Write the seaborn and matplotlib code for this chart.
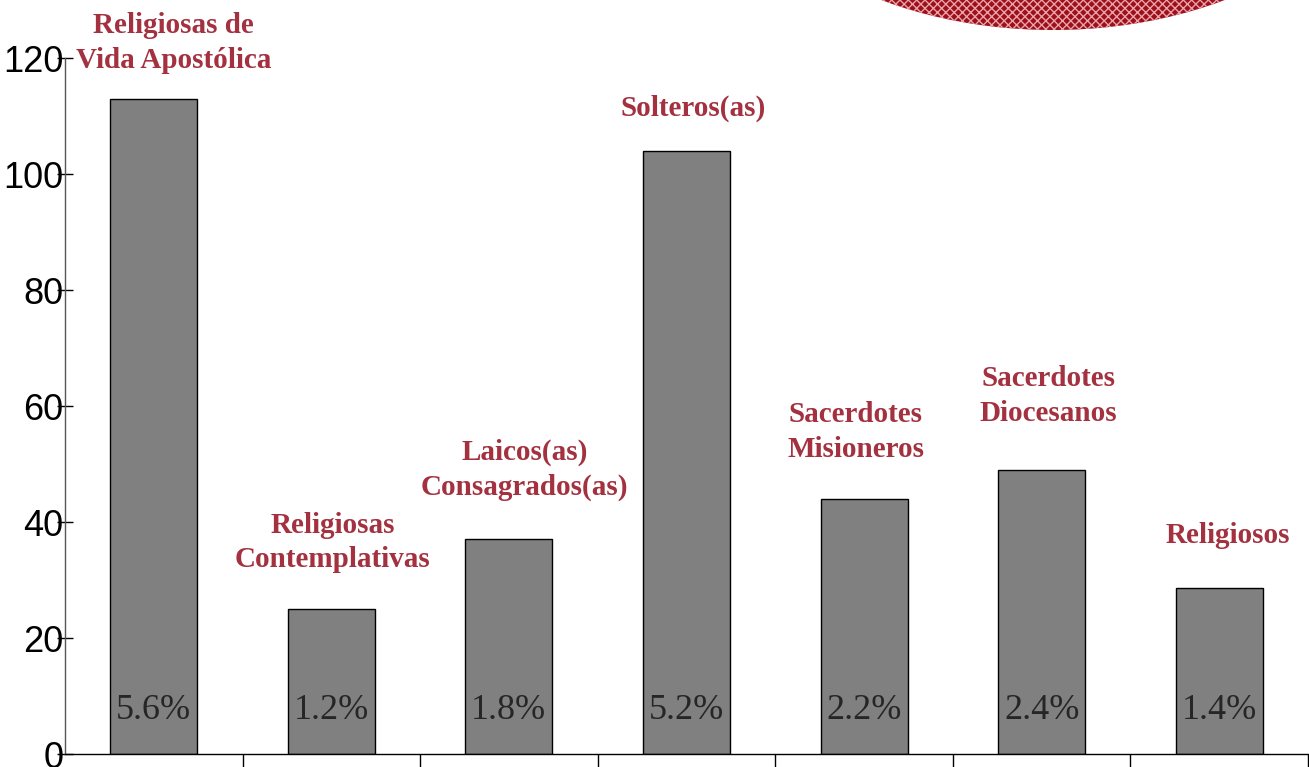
import pandas as pd
import numpy as np
import matplotlib.pyplot as plt
import seaborn as sns
from matplotlib.patches import Ellipse

# data
categorias = ['Religiosas de\nVida Apostólica', 'Religiosas\nContemplativas',
              'Laicos(as)\nConsagrados(as)', 'Solteros(as)',
              'Sacerdotes\nMisioneros', 'Sacerdotes\nDiocesanos', 'Religiosos']
valores = [113, 25, 37, 104, 44, 49, 28.6]
porcentajes = ['5.6%', '1.2%', '1.8%', '5.2%', '2.2%', '2.4%', '1.4%']
y_ticks = [0, 20, 40, 60, 80, 100, 120]

# small nudges of the category labels (in points)
label_dx = [14, 1, 11, 5, -6, 5, 6]
label_dy = [18, 26, 28, 21, 26, 31, 28]

df = pd.DataFrame({'cat': categorias, 'val': valores})

sns.set_style("white")
fig = plt.figure(figsize=(13.09, 7.67), dpi=100)
ax = fig.add_axes([65 / 1309, 13 / 767, 1243 / 1309, 696 / 767])

sns.barplot(x='cat', y='val', data=df, color='#808080', saturation=1,
            width=0.49, edgecolor='black', linewidth=1, ax=ax)

ax.set_xlim(-0.5, 6.5)
ax.set_ylim(0, 120)
ax.set_xlabel('')
ax.set_ylabel('')

# x ticks at the category boundaries, no labels
ax.set_xticks(np.arange(0.5, 7, 1))
ax.set_xticklabels([])
ax.tick_params(axis='x', direction='out', length=11, width=1, color='black', bottom=True)

ax.set_yticks(y_ticks)
ax.set_yticklabels([str(t) for t in y_ticks], family='Liberation Sans',
                   fontsize=26, color='black')
ax.tick_params(axis='y', direction='inout', length=12, width=1, color='black', pad=-5, left=True)

for s in ['top', 'right']:
    ax.spines[s].set_visible(False)
ax.spines['left'].set_color('#555555')
ax.spines['left'].set_linewidth(1)
ax.spines['bottom'].set_color('black')
ax.spines['bottom'].set_linewidth(1)

for i, (v, p, lab) in enumerate(zip(valores, porcentajes, categorias)):
    ax.text(i, 7.5, p, ha='center', va='center', fontsize=26,
            family='Liberation Serif', color='#262626')
    ax.annotate(lab, xy=(i, v), xytext=(label_dx[i], label_dy[i]),
                textcoords='offset points', ha='center', va='bottom',
                fontsize=21, fontweight='bold', family='Liberation Serif',
                color='#A3313F', linespacing=1.35, annotation_clip=False)

# red hatched ellipse cut by the top edge
plt.rcParams['hatch.color'] = '#E7A3A8'
ell = Ellipse((1053 / 1309, 1 + 170 / 767), 652 / 1309, 400 / 767,
              transform=fig.transFigure, facecolor='#9E0F1C',
              edgecolor='#E7A3A8', hatch='xxxx', linewidth=0)
fig.patches.append(ell)

plt.savefig('out.png', dpi=100)
